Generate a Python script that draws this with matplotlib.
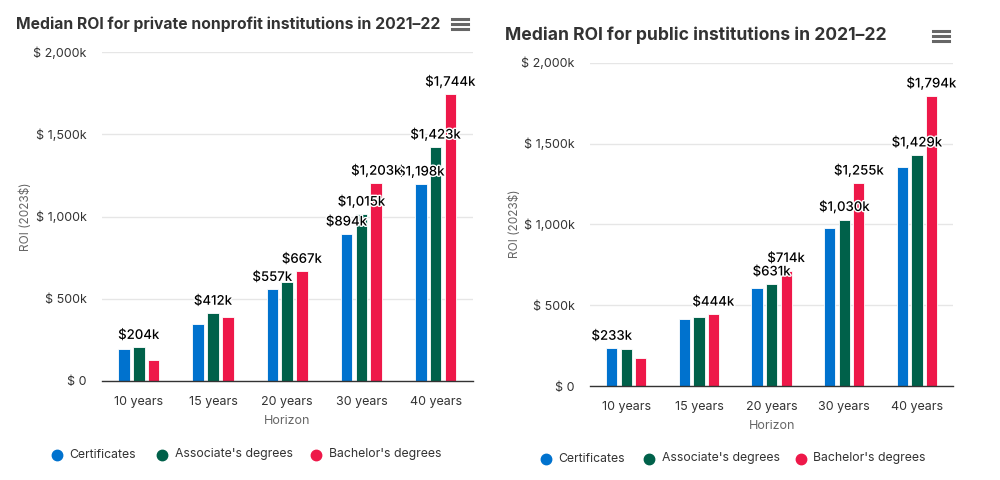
import matplotlib
matplotlib.use('Agg')
import matplotlib.pyplot as plt
import matplotlib.patheffects as pe
from matplotlib.lines import Line2D
import numpy as np

plt.rcParams['font.family'] = ['Inter', 'DejaVu Sans']

# ── data ──────────────────────────────────────────────────────────────────────
HORIZONS = ['10 years', '15 years', '20 years', '30 years', '40 years']
SERIES = ['Certificates', "Associate's degrees", "Bachelor's degrees"]
COLORS = ['#0072CE', '#00614A', '#EE1849']

# ROI in $k (2023$)
private_cert = [196, 348, 557, 894, 1198]
private_assoc = [204, 412, 604, 1015, 1423]
private_bach = [128, 391, 667, 1203, 1744]

public_cert = [233, 414, 605, 980, 1353]
public_assoc = [231, 426, 631, 1030, 1429]
public_bach = [172, 444, 714, 1255, 1794]

# which data labels are visible (the others are hidden by overlap in the original)
private_shown = [[False, False, True, True, True],
                 [True, True, False, True, True],
                 [False, False, True, True, True]]
public_shown = [[True, False, False, False, False],
                [False, False, True, True, True],
                [False, True, True, True, True]]

Y_TICKS = [0, 500, 1000, 1500, 2000]
Y_TICKLABELS = ['$ 0', '$ 500k', '$ 1,000k', '$ 1,500k', '$ 2,000k']

W, H = 1000, 480
fig = plt.figure(figsize=(W / 100, H / 100), dpi=100)
fig.patch.set_facecolor('white')


def fx(px):
    return px / W


def fy(py):
    return 1 - py / H


def draw_panel(rect, title, title_xy, title_fs, menu_xy, series, shown,
               ylab_xy, xlab_y, horizon_y, legend_y, legend_mx, legend_tx):
    ax = fig.add_axes(rect)
    x = np.arange(len(HORIZONS))
    for i, (vals, col) in enumerate(zip(series, COLORS)):
        xs = x + (i - 1) * 0.2
        ax.bar(xs, vals, width=0.155, color=col, edgecolor='white',
               linewidth=0.6, zorder=3)
        for xi, v, s in zip(xs, vals, shown[i]):
            if s:
                ax.annotate(f'${v:,}k', (xi, v), xytext=(0, 4),
                            textcoords='offset points', ha='center',
                            va='bottom', fontsize=9.5, fontweight='medium',
                            color='black', zorder=5,
                            path_effects=[pe.withStroke(linewidth=2,
                                                        foreground='white')])
    ax.set_xlim(-0.5, len(HORIZONS) - 0.5)
    ax.set_ylim(0, 2000)
    ax.set_yticks(Y_TICKS)
    ax.set_yticklabels(Y_TICKLABELS, fontsize=9, color='#333333')
    ax.set_xticks(x)
    ax.set_xticklabels([])
    ax.tick_params(length=0)
    ax.tick_params(axis='y', pad=11)
    ax.yaxis.grid(True, color='#e6e6e6', lw=1, zorder=0)
    for s in ['top', 'right', 'left']:
        ax.spines[s].set_visible(False)
    ax.spines['bottom'].set_color('#333333')
    ax.spines['bottom'].set_linewidth(1)
    ax.spines['bottom'].set_zorder(4)

    fig.text(fx(ylab_xy[0]), fy(ylab_xy[1]), 'ROI (2023$)', rotation=90,
             ha='center', va='center', fontsize=8.5, color='#666666')

    # x tick labels and axis title, placed in figure pixels
    x0, x1 = rect[0] * W, (rect[0] + rect[2]) * W
    cw = (x1 - x0) / len(HORIZONS)
    for i, h in enumerate(HORIZONS):
        fig.text(fx(x0 + cw * (i + 0.5)), fy(xlab_y), h, ha='center',
                 va='center', fontsize=9, color='#333333')
    fig.text(fx((x0 + x1) / 2), fy(horizon_y), 'Horizon', ha='center',
             va='center', fontsize=9, color='#666666')

    fig.text(fx(title_xy[0]), fy(title_xy[1]), title, ha='left',
             va='center', fontsize=title_fs, fontweight='bold',
             color='#333333')

    # menu icon
    mx0, mx1, my = menu_xy
    for dy in (-5, 0, 5):
        fig.add_artist(Line2D([fx(mx0), fx(mx1)], [fy(my + dy)] * 2,
                              color='#666666', lw=2.2))

    # legend
    for name, col, mxp, txp in zip(SERIES, COLORS, legend_mx, legend_tx):
        fig.add_artist(Line2D([fx(mxp)], [fy(legend_y)], marker='o',
                              markersize=7.5, color=col, lw=0))
        fig.text(fx(txp), fy(legend_y), name, ha='left', va='center',
                 fontsize=8.8, color='#333333')
    return ax


draw_panel([fx(101.7), fy(381), fx(371), 328.7 / H],
           'Median ROI for private nonprofit institutions in 2021–22',
           (16, 24), 11.3, (452, 468, 24),
           [private_cert, private_assoc, private_bach], private_shown,
           (26, 217), 402, 421.5, 454.5, [57, 162, 316], [69, 175, 329])

draw_panel([fx(590), fy(386), fx(363.3), 323.3 / H],
           'Median ROI for public institutions in 2021–22',
           (505.5, 35), 12.6, (933, 949, 35.5),
           [public_cert, public_assoc, public_bach], public_shown,
           (515, 224), 407, 426, 458.5, [546, 649, 801], [558, 662, 813])

fig.savefig('out.png', dpi=100, facecolor='white')
